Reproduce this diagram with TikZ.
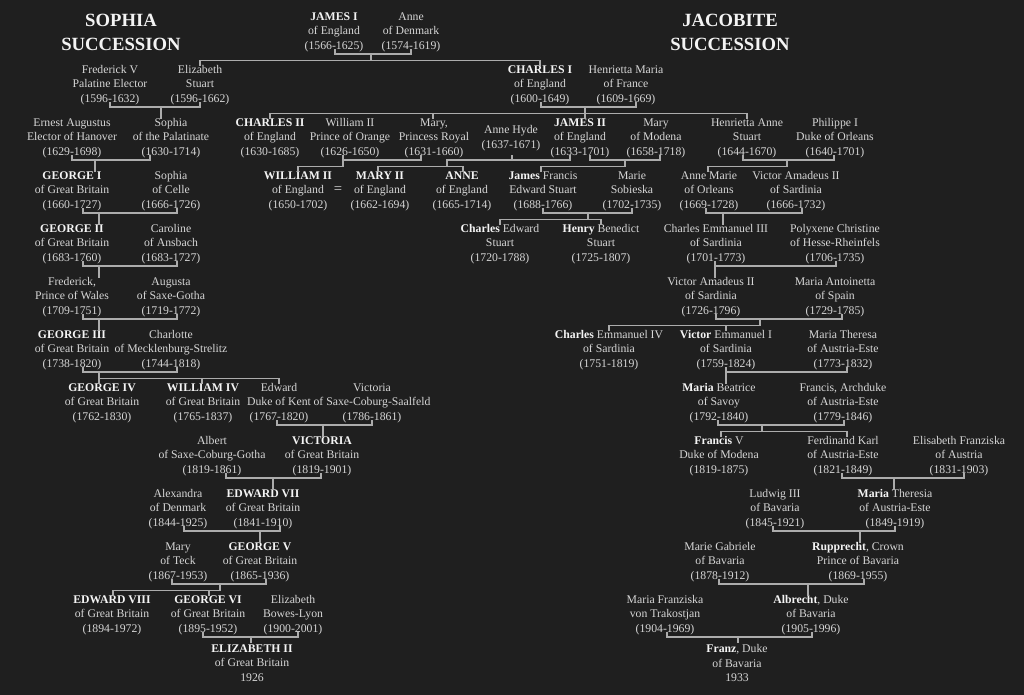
\documentclass[tikz,border=0pt]{standalone}
\usepackage{fontspec}
\setmainfont{Liberation Serif}
\usetikzlibrary{calc}
\definecolor{bg}{RGB}{31,31,31}
\definecolor{txt}{RGB}{214,214,214}
\definecolor{hi}{RGB}{244,244,244}
\definecolor{ln}{RGB}{172,172,172}
\newcommand\bn[1]{\textcolor{hi}{\textbf{#1}}}
\newcommand\pfont{\fontsize{8.8}{10.9}\selectfont}
\newcommand\wed[4]{\draw[link] ($(#1)+(#2,18)$) -- ++(0,4) -- ($(#3)+(#4,22)$) -- ++(0,-4);}
\newcommand\drp[3]{\draw[link] ($(#1)+(#2,22)$) -- ++(0,#3);}
\newcommand\kid[2]{\draw[link] ($(#1)+(#2,-20)$) -- ++(0,-4.5);}
\begin{document}
\begin{tikzpicture}[x=0.75pt,y=-0.75pt,
  p/.style={align=center,inner sep=0pt,outer sep=0pt,text=txt,font=\pfont},
  ttl/.style={align=center,inner sep=0pt,text=hi,font=\fontsize{14}{18}\selectfont\bfseries},
  link/.style={draw=ln,line width=1.1pt,line cap=rect}]
\fill[bg] (0,0) rectangle (1024,695);
\node[ttl] (tsophia) at (121,32) {SOPHIA\\SUCCESSION};
\node[ttl] (tjacob) at (730,32) {JACOBITE\\SUCCESSION};
% row 0
\node[p] (jamesI) at (334,32) {\bn{JAMES I}\\of England\\(1566-1625)};
\node[p] (anneD) at (411,32) {Anne\\of Denmark\\(1574-1619)};
% row 1
\node[p] (frederickV) at (110,85) {Frederick V\\Palatine Elector\\(1596-1632)};
\node[p] (elizabeth) at (200,85) {Elizabeth\\Stuart\\(1596-1662)};
\node[p] (charlesI) at (540,85) {\bn{CHARLES I}\\of England\\(1600-1649)};
\node[p] (henriettaM) at (626,85) {Henrietta Maria\\of France\\(1609-1669)};
% row 2
\node[p] (ernest) at (72,138) {Ernest Augustus\\Elector of Hanover\\(1629-1698)};
\node[p] (sophia) at (171,138) {Sophia\\of the Palatinate\\(1630-1714)};
\node[p] (charlesII) at (270,138) {\bn{CHARLES II}\\of England\\(1630-1685)};
\node[p] (williamO) at (350,138) {William II\\Prince of Orange\\(1626-1650)};
\node[p] (maryPR) at (434,138) {Mary,\\Princess Royal\\(1631-1660)};
\node[p] (anneHyde) at (511,138) {Anne Hyde\\(1637-1671)};
\node[p] (jamesII) at (580,138) {\bn{JAMES II}\\of England\\(1633-1701)};
\node[p] (maryM) at (656,138) {Mary\\of Modena\\(1658-1718)};
\node[p] (henriettaA) at (747,138) {Henrietta Anne\\Stuart\\(1644-1670)};
\node[p] (philippe) at (835,138) {Philippe I\\Duke of Orleans\\(1640-1701)};
% row 3
\node[p] (georgeI) at (72,191) {\bn{GEORGE I}\\of Great Britain\\(1660-1727)};
\node[p] (sophiaC) at (171,191) {Sophia\\of Celle\\(1666-1726)};
\node[p] (williamIII) at (298,191) {\bn{WILLIAM II}\\of England\\(1650-1702)};
\node[p,font=\fontsize{11}{12}\selectfont] (eq) at (338,190) {=};
\node[p] (maryII) at (380,191) {\bn{MARY II}\\of England\\(1662-1694)};
\node[p] (anneQ) at (462,191) {\bn{ANNE}\\of England\\(1665-1714)};
\node[p] (jamesF) at (543,191) {\bn{James} Francis\\Edward Stuart\\(1688-1766)};
\node[p] (marieS) at (632,191) {Marie\\Sobieska\\(1702-1735)};
\node[p] (anneMO) at (709,191) {Anne Marie\\of Orleans\\(1669-1728)};
\node[p] (victorA2) at (796,191) {Victor Amadeus II\\of Sardinia\\(1666-1732)};
% row 4
\node[p] (georgeII) at (72,244) {\bn{GEORGE II}\\of Great Britain\\(1683-1760)};
\node[p] (caroline) at (171,244) {Caroline\\of Ansbach\\(1683-1727)};
\node[p] (charlesE) at (500,244) {\bn{Charles} Edward\\Stuart\\(1720-1788)};
\node[p] (henryB) at (601,244) {\bn{Henry} Benedict\\Stuart\\(1725-1807)};
\node[p] (charlesE3) at (716,244) {Charles Emmanuel III\\of Sardinia\\(1701-1773)};
\node[p] (polyxene) at (835,244) {Polyxene Christine\\of Hesse-Rheinfels\\(1706-1735)};
% row 5
\node[p] (frederickW) at (72,297) {Frederick,\\Prince of Wales\\(1709-1751)};
\node[p] (augusta) at (171,297) {Augusta\\of Saxe-Gotha\\(1719-1772)};
\node[p] (victorA3) at (711,297) {Victor Amadeus II\\of Sardinia\\(1726-1796)};
\node[p] (mariaAnt) at (835,297) {Maria Antoinetta\\of Spain\\(1729-1785)};
% row 6
\node[p] (georgeIII) at (72,350) {\bn{GEORGE III}\\of Great Britain\\(1738-1820)};
\node[p] (charlotte) at (171,350) {Charlotte\\of Mecklenburg-Strelitz\\(1744-1818)};
\node[p] (charlesE4) at (609,350) {\bn{Charles} Emmanuel IV\\of Sardinia\\(1751-1819)};
\node[p] (victorE1) at (726,350) {\bn{Victor} Emmanuel I\\of Sardinia\\(1759-1824)};
\node[p] (mariaTh) at (843,350) {Maria Theresa\\of Austria-Este\\(1773-1832)};
% row 7
\node[p] (georgeIV) at (102,403) {\bn{GEORGE IV}\\of Great Britain\\(1762-1830)};
\node[p] (williamIV) at (203,403) {\bn{WILLIAM IV}\\of Great Britain\\(1765-1837)};
\node[p] (edward) at (279,403) {Edward\\Duke of Kent\\(1767-1820)};
\node[p] (victoriaS) at (372,403) {Victoria\\of Saxe-Coburg-Saalfeld\\(1786-1861)};
\node[p] (mariaB) at (719,403) {\bn{Maria} Beatrice\\of Savoy\\(1792-1840)};
\node[p] (francisA) at (843,403) {Francis, Archduke\\of Austria-Este\\(1779-1846)};
% row 8
\node[p] (albert) at (212,456) {Albert\\of Saxe-Coburg-Gotha\\(1819-1861)};
\node[p] (victoria) at (322,456) {\bn{VICTORIA}\\of Great Britain\\(1819-1901)};
\node[p] (francisV) at (719,456) {\bn{Francis} V\\Duke of Modena\\(1819-1875)};
\node[p] (ferdinand) at (843,456) {Ferdinand Karl\\of Austria-Este\\(1821-1849)};
\node[p] (elisabethF) at (959,456) {Elisabeth Franziska\\of Austria\\(1831-1903)};
% row 9
\node[p] (alexandra) at (178,509) {Alexandra\\of Denmark\\(1844-1925)};
\node[p] (edwardVII) at (263,509) {\bn{EDWARD VII}\\of Great Britain\\(1841-1910)};
\node[p] (ludwig) at (775,509) {Ludwig III\\of Bavaria\\(1845-1921)};
\node[p] (mariaTA) at (895,509) {\bn{Maria} Theresia\\of Austria-Este\\(1849-1919)};
% row 10
\node[p] (maryT) at (178,562) {Mary\\of Teck\\(1867-1953)};
\node[p] (georgeV) at (260,562) {\bn{GEORGE V}\\of Great Britain\\(1865-1936)};
\node[p] (marieG) at (720,562) {Marie Gabriele\\of Bavaria\\(1878-1912)};
\node[p] (rupprecht) at (858,562) {\bn{Rupprecht}, Crown\\Prince of Bavaria\\(1869-1955)};
% row 11
\node[p] (edwardVIII) at (112,615) {\bn{EDWARD VIII}\\of Great Britain\\(1894-1972)};
\node[p] (georgeVI) at (208,615) {\bn{GEORGE VI}\\of Great Britain\\(1895-1952)};
\node[p] (elizabethBL) at (293,615) {Elizabeth\\Bowes-Lyon\\(1900-2001)};
\node[p] (mariaF) at (665,615) {Maria Franziska\\von Trakostjan\\(1904-1969)};
\node[p] (albrecht) at (811,615) {\bn{Albrecht}, Duke\\of Bavaria\\(1905-1996)};
% row 12
\node[p] (elizabethII) at (252,663) {\bn{ELIZABETH II}\\of Great Britain\\1926};
\node[p] (franz) at (737,663) {\bn{Franz}, Duke\\of Bavaria\\1933};
% ---------- connectors ----------
% F0
\wed{jamesI}{1}{anneD}{0}
\drp{jamesI}{37}{6.5}
\draw[link] ($(elizabeth)+(0,-20)$) -- ++(0,-4.5) -- ($(charlesI)+(0,-24.5)$) -- ++(0,4.5);
% F1
\wed{frederickV}{0}{elizabeth}{0}
\drp{frederickV}{51}{11}
% F2
\wed{charlesI}{1}{henriettaM}{10}
\drp{charlesI}{45}{6.5}
\draw[link] ($(charlesII)+(0,-20)$) -- ++(0,-4.5) -- ($(henriettaA)+(0,-24.5)$) -- ++(0,4.5);
\kid{maryPR}{-1}
\kid{jamesII}{5}
% F3
\wed{ernest}{0}{sophia}{-21}
\drp{ernest}{23}{11}
% F4
\wed{williamO}{-7}{maryPR}{-13}
\drp{williamO}{-7}{6.5}
\draw[link] ($(williamIII)+(0,-20)$) -- ++(0,-4.5) -- ($(williamO)+(-7,28.5)$);
% F5
\draw[link] ($(anneHyde)+(-64,28.5)$) -- ++(0,-6.5) -- ($(jamesII)+(-10,22)$) -- ++(0,-4);
\draw[link] ($(anneHyde)+(1,18)$) -- ++(0,4);
\draw[link] ($(maryII)+(-2,-20)$) -- ++(0,-4.5) -- ($(anneQ)+(1,-24.5)$) -- ++(0,4.5);
% F6
\wed{jamesII}{10}{maryM}{4}
\drp{jamesII}{45}{6.5}
\draw[link] ($(jamesF)+(-2,-20)$) -- ++(0,-4.5) -- ($(jamesII)+(45,28.5)$);
% F7
\wed{henriettaA}{-4}{philippe}{-1}
\drp{henriettaA}{40}{6.5}
\draw[link] ($(anneMO)+(-1,-20)$) -- ++(0,-4.5) -- ($(henriettaA)+(40,28.5)$);
% F8
\wed{georgeI}{11}{sophiaC}{6}
\drp{georgeI}{27}{11}
% F9
\wed{jamesF}{0}{marieS}{0}
\drp{jamesF}{45}{6.5}
\draw[link] ($(charlesE)+(0,-20)$) -- ++(0,-4.5) -- ($(henryB)+(0,-24.5)$) -- ++(0,4.5);
% F10
\wed{anneMO}{-3}{victorA2}{6}
\drp{anneMO}{14}{11}
% F11
\wed{georgeII}{11}{caroline}{6}
\drp{georgeII}{27}{11}
% F12
\wed{charlesE3}{-1}{polyxene}{1}
\drp{charlesE3}{-1}{11}
% F13
\wed{frederickW}{11}{augusta}{6}
\drp{frederickW}{27}{11}
% F14
\wed{victorA3}{5}{mariaAnt}{7}
\drp{victorA3}{49}{6.5}
\draw[link] ($(charlesE4)+(0,-20)$) -- ++(0,-4.5) -- ($(victorA3)+(49,28.5)$);
\kid{victorE1}{0}
% F15
\wed{georgeIII}{11}{charlotte}{6}
\drp{georgeIII}{27}{6.5}
\draw[link] ($(georgeIV)+(-3,-20)$) -- ++(0,-4.5) -- ($(edward)+(0,-24.5)$) -- ++(0,4.5);
\kid{williamIV}{-1}
% F16
\wed{victorE1}{0}{mariaTh}{4}
\drp{victorE1}{0}{11}
% F17
\wed{edward}{-2}{victoriaS}{0}
\drp{edward}{44}{11}
% F18
\wed{mariaB}{-1}{francisA}{1}
\drp{mariaB}{43}{6.5}
\draw[link] ($(francisV)+(2,-20)$) -- ++(0,-4.5) -- ($(ferdinand)+(4,-24.5)$) -- ++(0,4.5);
% F19
\wed{albert}{14}{victoria}{-1}
\drp{albert}{61}{11}
% F20
\wed{ferdinand}{-1}{elisabethF}{5}
\drp{ferdinand}{51}{11}
% F21
\wed{alexandra}{6}{edwardVII}{17}
\drp{alexandra}{82}{11}
% F22
\wed{ludwig}{-2}{mariaTA}{0}
\drp{ludwig}{85}{11}
% F23
\wed{maryT}{-6}{georgeV}{6}
\drp{maryT}{42}{6.5}
\draw[link] ($(edwardVIII)+(1,-20)$) -- ++(0,-4.5) -- ($(maryT)+(42,28.5)$);
\kid{georgeVI}{1}
% F24
\wed{marieG}{-1}{rupprecht}{6}
\drp{marieG}{88}{11}
% F25
\wed{georgeVI}{-5}{elizabethBL}{5}
\drp{georgeVI}{43}{5}
% F26
\wed{mariaF}{2}{albrecht}{1}
\drp{mariaF}{73}{5}
\end{tikzpicture}
\end{document}
